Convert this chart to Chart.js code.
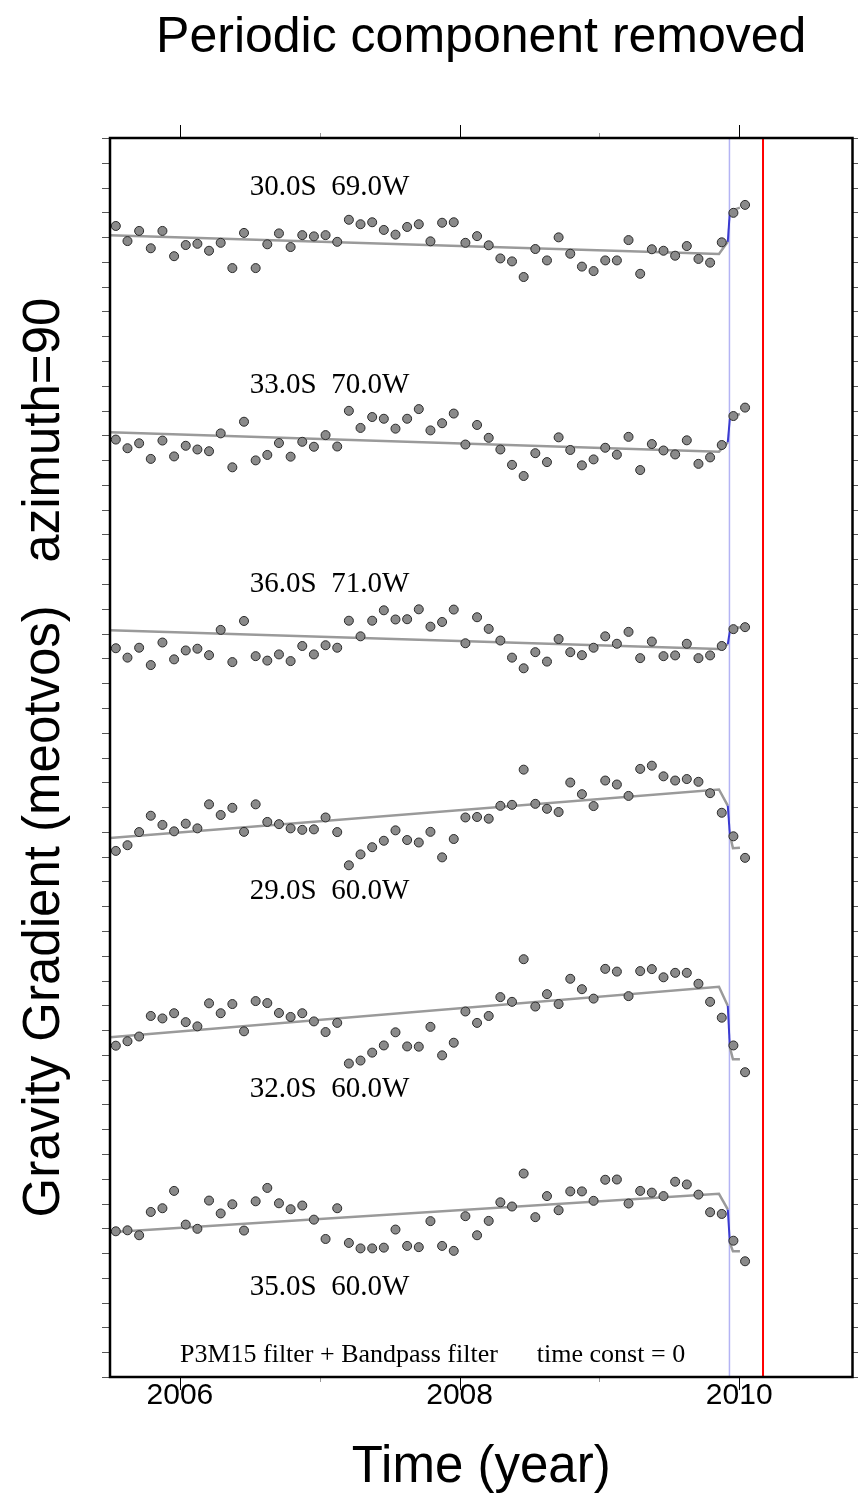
<!DOCTYPE html>
<html><head><meta charset="utf-8">
<script src="https://cdn.jsdelivr.net/npm/chart.js@4.4.1/dist/chart.umd.min.js"></script>
<style>html,body{margin:0;padding:0;background:#fff;}#wrap{width:858px;height:1501px;}</style>
</head><body><div id="wrap"><canvas id="c" width="858" height="1501"></canvas></div>
<script>
// ---- data ----
const months = ['2005-07','2005-08','2005-09','2005-10','2005-11','2005-12',
 '2006-01','2006-02','2006-03','2006-04','2006-05','2006-06','2006-07','2006-08','2006-09','2006-10','2006-11','2006-12',
 '2007-01','2007-02','2007-03','2007-04','2007-05','2007-06','2007-07','2007-08','2007-09','2007-10','2007-11','2007-12',
 '2008-01','2008-02','2008-03','2008-04','2008-05','2008-06','2008-07','2008-08','2008-09','2008-10','2008-11','2008-12',
 '2009-01','2009-02','2009-03','2009-04','2009-05','2009-06','2009-07','2009-08','2009-09','2009-10','2009-11','2009-12',
 '2010-01'];
const stationLabels = ['30.0S  69.0W','33.0S  70.0W','36.0S  71.0W','29.0S  60.0W','32.0S  60.0W','35.0S  60.0W'];
const offsets = [46, 38, 30, 22, 14, 6];
const labelShift = [2.0, 2.0, 2.0, -2.4, -2.4, -2.4];
const s1 = [0.45,-0.16,0.25,-0.45,0.25,-0.77,-0.32,-0.27,-0.55,-0.23,-1.25,0.17,-1.25,-0.29,0.15,-0.40,0.08,0.03,0.08,-0.19,0.70,0.52,0.60,0.29,0.10,0.41,0.52,-0.17,0.58,0.60,-0.23,0.04,-0.33,-0.86,-0.98,-1.61,-0.48,-0.94,-0.01,-0.67,-1.19,-1.37,-0.94,-0.94,-0.12,-1.48,-0.49,-0.55,-0.75,-0.36,-0.88,-1.03,-0.21,0.98,1.30];
const s2 = [-0.17,-0.52,-0.32,-0.95,-0.21,-0.85,-0.42,-0.57,-0.64,0.08,-1.29,0.55,-1.01,-0.79,-0.31,-0.86,-0.26,-0.46,0.01,-0.45,0.99,0.30,0.74,0.67,0.27,0.67,1.06,0.20,0.49,0.88,-0.37,0.42,-0.10,-0.57,-1.19,-1.64,-0.72,-1.08,-0.08,-0.59,-1.21,-0.97,-0.50,-0.78,-0.06,-1.40,-0.35,-0.61,-0.77,-0.20,-1.15,-0.89,-0.39,0.78,1.12];
const s3 = [-0.59,-0.97,-0.57,-1.27,-0.36,-1.04,-0.68,-0.61,-0.87,0.15,-1.15,0.51,-0.91,-1.09,-0.84,-1.11,-0.50,-0.84,-0.47,-0.57,0.52,-0.11,0.52,0.94,0.57,0.58,0.98,0.28,0.47,0.97,-0.39,0.66,0.19,-0.28,-0.97,-1.40,-0.75,-1.13,-0.22,-0.75,-0.87,-0.57,-0.11,-0.41,0.07,-0.99,-0.32,-0.91,-0.88,-0.41,-0.99,-0.88,-0.50,0.18,0.26];
const s4 = [-0.77,-0.54,-0.01,0.65,0.28,0.02,0.33,0.14,1.11,0.68,0.97,0.00,1.11,0.40,0.31,0.14,0.08,0.10,0.58,-0.01,-1.35,-0.91,-0.62,-0.36,0.06,-0.33,-0.43,0.00,-1.03,-0.29,0.58,0.60,0.53,1.05,1.09,2.51,1.13,0.93,0.80,1.99,1.52,1.04,2.07,1.91,1.45,2.54,2.67,2.24,2.07,2.13,2.02,1.56,0.77,-0.18,-1.05];
const s5 = [-0.63,-0.45,-0.26,0.57,0.47,0.68,0.32,0.15,1.08,0.68,1.05,-0.05,1.17,1.09,0.69,0.53,0.68,0.35,-0.08,0.29,-1.35,-1.23,-0.91,-0.62,-0.09,-0.66,-0.67,0.13,-1.02,-0.51,0.75,0.29,0.57,1.33,1.14,2.86,0.95,1.45,1.05,2.07,1.65,1.27,2.47,2.36,1.37,2.38,2.46,2.13,2.31,2.31,1.87,1.14,0.50,-0.62,-1.70];
const s6 = [-0.12,-0.08,-0.28,0.66,0.81,1.51,0.15,-0.02,1.12,0.60,0.97,-0.09,1.09,1.63,1.01,0.77,0.92,0.35,-0.43,0.81,-0.59,-0.81,-0.81,-0.78,-0.05,-0.71,-0.76,0.29,-0.71,-0.91,0.49,-0.28,0.30,1.05,0.88,2.21,0.45,1.30,0.73,1.49,1.49,1.11,1.96,1.97,1.00,1.51,1.44,1.30,1.88,1.77,1.36,0.65,0.58,-0.50,-1.33];
// fitted model: trend, jump (blue), tail
const fitTimes = [2005.5, 2009.855, 2009.918];
const jumpTimes = [2009.918, 2009.933];
const tailTimes = [2009.933, 2009.955, 2010.005];
const fit1 = [0.08,-0.68,-0.19], jump1 = [-0.19,1.03], tail1 = [1.03,1.09,1.19];
const fit2 = [0.13,-0.66,-0.28], jump2 = [-0.28,0.68], tail2 = [0.68,0.78,0.86];
const fit3 = [0.14,-0.62,-0.43], jump3 = [-0.43,0.10], tail3 = [0.10,0.20,0.26];
const fit4 = [-0.25,1.71,1.06], jump4 = [1.06,-0.11], tail4 = [-0.11,-0.66,-0.64];
const fit5 = [-0.29,1.75,0.98], jump5 = [0.98,-0.70], tail5 = [-0.70,-1.18,-1.18];
const fit6 = [-0.16,1.39,0.76], jump6 = [0.76,-0.59], tail6 = [-0.59,-0.93,-0.93];
const blueLineTime = 2009.93;
const redLineTime = 2010.17;
const xTickYears = [2006, 2007, 2008, 2009, 2010];
const xLabelYears = [2006, 2008, 2010];
const footnote = 'P3M15 filter + Bandpass filter      time const = 0';

// ---- build ----
const series = [s1,s2,s3,s4,s5,s6];
const fits = [fit1,fit2,fit3,fit4,fit5,fit6];
const jumps = [jump1,jump2,jump3,jump4,jump5,jump6];
const tails = [tail1,tail2,tail3,tail4,tail5,tail6];
const tYears = months.map(m => { const [y, mo] = m.split('-').map(Number); return y + (mo - 0.5) / 12; });
const Y_MIN = 0, Y_MAX = 50;
const datasets = [];
datasets.push({data:[{x:blueLineTime,y:Y_MIN},{x:blueLineTime,y:Y_MAX}], showLine:true, borderColor:'#b4b4f4', borderWidth:1.5, pointRadius:0, order:10});
datasets.push({data:[{x:redLineTime,y:Y_MIN},{x:redLineTime,y:Y_MAX}], showLine:true, borderColor:'#ff0000', borderWidth:2, pointRadius:0, order:10});
series.forEach((s, k) => {
  const off = offsets[k];
  datasets.push({data: fitTimes.map((x,i)=>({x, y: off + fits[k][i]})), showLine:true, borderColor:'#9a9a9a', borderWidth:2.5, pointRadius:0, order:5});
  datasets.push({data: tailTimes.map((x,i)=>({x, y: off + tails[k][i]})), showLine:true, borderColor:'#9a9a9a', borderWidth:2.5, pointRadius:0, order:5});
  datasets.push({data: jumpTimes.map((x,i)=>({x, y: off + jumps[k][i]})), showLine:true, borderColor:'#3a3ad0', borderWidth:2, pointRadius:0, order:4});
  datasets.push({data: s.map((v,i)=>({x: tYears[i], y: off + v})), showLine:false, pointRadius:4.5, pointBackgroundColor:'#8a8a8a', pointBorderColor:'#2a2a2a', pointBorderWidth:1, order:1});
});

const decor = {
  id: 'decor',
  afterDraw(chart) {
    const {ctx, chartArea: a, scales: {x, y}} = chart;
    ctx.save();
    ctx.strokeStyle = '#555'; ctx.lineWidth = 1;
    for (let v = Y_MIN; v <= Y_MAX; v++) {
      const py = Math.round(y.getPixelForValue(v)) + 0.5;
      ctx.beginPath(); ctx.moveTo(a.left - 8, py); ctx.lineTo(a.left, py); ctx.stroke();
      ctx.beginPath(); ctx.moveTo(a.right, py); ctx.lineTo(a.right + 8, py); ctx.stroke();
    }
    xTickYears.forEach(yr => {
      const px = Math.round(x.getPixelForValue(yr)) + 0.5;
      const major = xLabelYears.includes(yr);
      ctx.strokeStyle = major ? '#000' : '#999';
      const len = major ? 13 : 5;
      ctx.beginPath(); ctx.moveTo(px, a.top - len); ctx.lineTo(px, a.top); ctx.stroke();
      ctx.beginPath(); ctx.moveTo(px, a.bottom); ctx.lineTo(px, a.bottom + len); ctx.stroke();
    });
    ctx.strokeStyle = '#000'; ctx.lineWidth = 2.5;
    ctx.strokeRect(a.left, a.top, a.right - a.left, a.bottom - a.top);
    ctx.fillStyle = '#000';
    ctx.font = '29px "Liberation Serif", "Times New Roman", serif';
    ctx.textBaseline = 'middle'; ctx.textAlign = 'left';
    stationLabels.forEach((lab, k) => {
      ctx.fillText(lab, x.getPixelForValue(2006.5), y.getPixelForValue(offsets[k] + labelShift[k]));
    });
    ctx.font = '26px "Liberation Serif", "Times New Roman", serif';
    ctx.fillText(footnote, x.getPixelForValue(2006.0), y.getPixelForValue(0.9));
    ctx.restore();
  }
};

new Chart(document.getElementById('c'), {
  type: 'scatter',
  data: {datasets},
  options: {
    responsive: false, animation: false, devicePixelRatio: 1,
    layout: {padding: {left: 0, right: 2, top: 0, bottom: 0}},
    plugins: {
      legend: {display: false}, tooltip: {enabled: false},
      title: {display: true, text: 'Periodic component removed', fullSize: false, color: '#000',
        font: {family: '"Liberation Sans", Arial, sans-serif', size: 50, weight: 'normal'},
        padding: {top: 8, bottom: 70}}
    },
    scales: {
      x: {type: 'linear', min: 2005.5, max: 2010.81,
        grid: {display: false, drawTicks: false}, border: {display: false},
        afterBuildTicks: s => { s.ticks = xTickYears.map(v => ({value: v})); },
        ticks: {autoSkip: false, maxRotation: 0, color: '#000', padding: 1,
          font: {family: '"Liberation Sans", Arial, sans-serif', size: 30},
          callback: v => xLabelYears.includes(v) ? String(v) : ''},
        title: {display: true, text: 'Time (year)', color: '#000',
          font: {family: '"Liberation Sans", Arial, sans-serif', size: 51}, padding: {top: 0, bottom: 2}},
        afterFit: s => { s.height = 124; }
      },
      y: {min: Y_MIN, max: Y_MAX,
        grid: {display: false, drawTicks: false}, border: {display: false},
        ticks: {display: false, stepSize: 1},
        title: {display: true, text: 'Gravity Gradient (meotvos)   azimuth=90', color: '#000',
          font: {family: '"Liberation Sans", Arial, sans-serif', size: 51}, padding: {top: 14, bottom: 0}},
        afterFit: s => { s.width = 110; }
      }
    }
  },
  plugins: [decor]
});
</script></body></html>
